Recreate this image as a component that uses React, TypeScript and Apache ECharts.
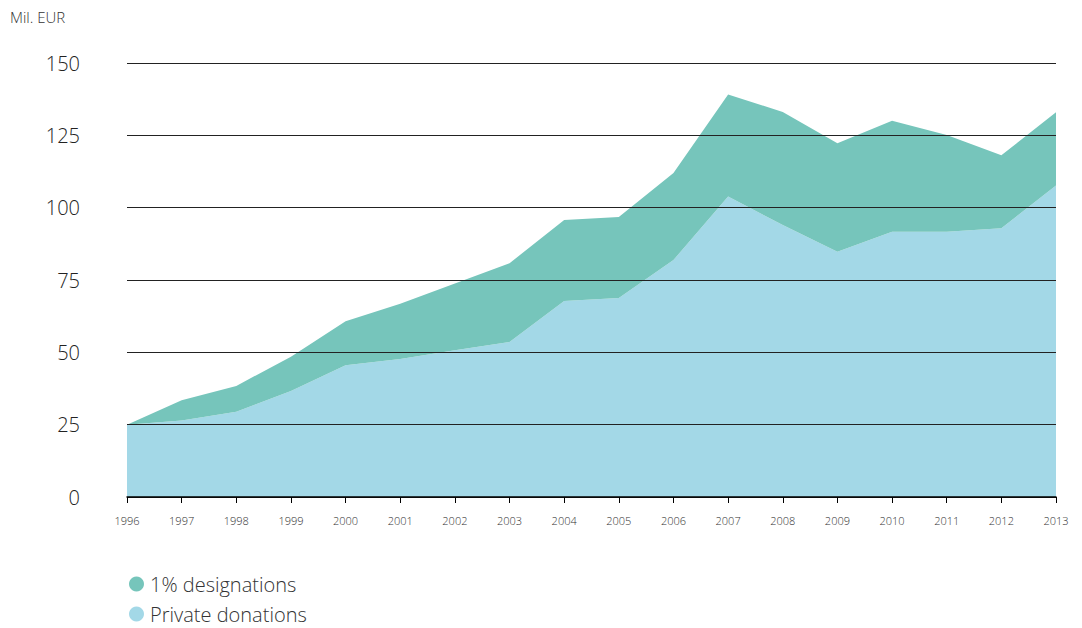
import React, { useEffect, useRef } from "react";
import * as echarts from "echarts";

const years = ["1996","1997","1998","1999","2000","2001","2002","2003","2004","2005","2006","2007","2008","2009","2010","2011","2012","2013"];
const privateDonations = [25, 26.4, 29.5, 36.6, 45.5, 47.7, 50.7, 53.6, 67.7, 68.8, 81.9, 103.9, 94.0, 84.8, 91.7, 91.7, 92.9, 107.7];
const designations = [0, 7.0, 8.9, 11.9, 15.2, 19.1, 23.1, 27.2, 28.0, 28.0, 30.1, 35.2, 39.1, 37.5, 38.3, 33.4, 25.2, 25.3];
const yTicks = [0, 25, 50, 75, 100, 125, 150];

const GREEN = "#76c5bb";
const BLUE = "#a3d8e7";
const FONT = "'Open Sans', Lato, sans-serif";

export default function App() {
  const ref = useRef<HTMLDivElement>(null);
  useEffect(() => {
    if (!ref.current) return;
    const chart = echarts.init(ref.current, null, { renderer: "svg" });
    chart.setOption({
      animation: false,
      textStyle: { fontFamily: FONT },
      title: {
        text: "Mil. EUR",
        left: 5,
        top: 4,
        padding: 5,
        textStyle: { fontSize: 15, fontWeight: 300, color: "#333", fontFamily: FONT },
      },
      legend: {
        orient: "vertical",
        left: 129,
        top: 573,
        padding: 0,
        icon: "circle",
        itemWidth: 15,
        itemHeight: 15,
        itemGap: 8,
        data: ["1% designations", "Private donations"],
        textStyle: { fontSize: 20, lineHeight: 22, fontWeight: 300, color: "#333", fontFamily: FONT, padding: [0, 0, 0, 1] },
      },
      grid: { left: 127, right: 26, top: 63, bottom: 131, containLabel: false },
      xAxis: {
        type: "category",
        data: years,
        boundaryGap: false,
        z: 5,
        axisLine: { lineStyle: { color: "#000", width: 1.5 } },
        axisTick: { show: true, length: 6, lineStyle: { color: "#000" } },
        axisLabel: { fontSize: 11, fontWeight: 300, color: "#333", margin: 18, fontFamily: FONT },
        splitLine: { show: false },
      },
      yAxis: {
        type: "value",
        min: 0,
        max: 150,
        interval: 25,
        z: 5,
        axisLine: { show: false },
        axisTick: { show: false },
        axisLabel: {
          fontSize: 20,
          fontWeight: 300,
          color: "#222",
          margin: 47,
          fontFamily: FONT,
          formatter: (v: number) => (yTicks.includes(v) ? String(v) : ""),
        },
        splitLine: { show: true, lineStyle: { color: "#222", width: 1 } },
      },
      series: [
        {
          name: "Private donations",
          type: "line",
          stack: "total",
          data: privateDonations,
          symbol: "none",
          lineStyle: { width: 0 },
          itemStyle: { color: BLUE },
          areaStyle: { color: BLUE, opacity: 1 },
          z: 2,
        },
        {
          name: "1% designations",
          type: "line",
          stack: "total",
          data: designations,
          symbol: "none",
          lineStyle: { width: 0 },
          itemStyle: { color: GREEN },
          areaStyle: { color: GREEN, opacity: 1 },
          z: 2,
        },
      ],
    });
    return () => chart.dispose();
  }, []);
  return <div ref={ref} style={{ width: 1082, height: 628, position: "absolute", left: 0, top: 0 }} />;
}
